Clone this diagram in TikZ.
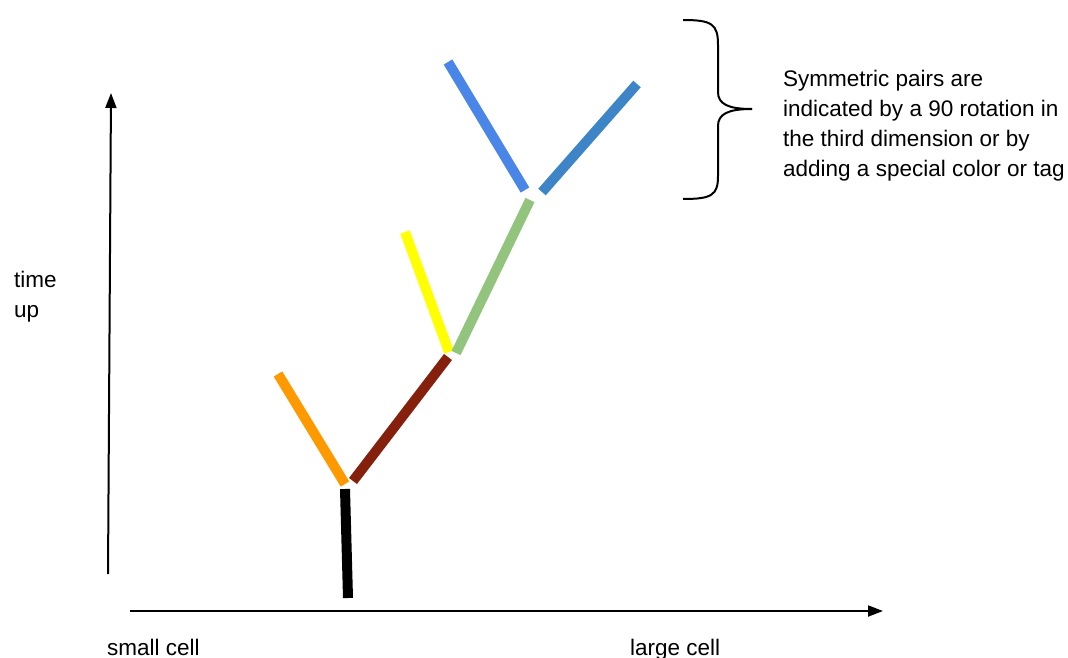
\documentclass[tikz,border=0pt]{standalone}
\usepackage{fontspec}
\setmainfont{Liberation Sans}
\usetikzlibrary{arrows.meta}
\definecolor{cOrange}{HTML}{FF9900}
\definecolor{cBrown}{HTML}{85200C}
\definecolor{cYellow}{HTML}{FFFF00}
\definecolor{cGreen}{HTML}{93C47D}
\definecolor{cBlueA}{HTML}{4A86E8}
\definecolor{cBlueB}{HTML}{3D85C6}
\begin{document}
\begin{tikzpicture}[x=1pt,y=-1pt,
  seg/.style={line width=10pt},
  axis/.style={line width=2pt,-{Triangle[length=15pt,width=11pt]}},
  brace/.style={line width=2pt},
  lbl/.style={font=\fontsize{22.5}{30}\selectfont, inner sep=0pt, align=left}]
\useasboundingbox (0,0) rectangle (1068,658);
% axes
\coordinate (yb) at (108,574);
\coordinate (yt) at (111,93);
\coordinate (xb) at (130,611);
\coordinate (xt) at (883,611);
\draw[axis] (yb) -- (yt);
\draw[axis] (xb) -- (xt);
% tree segments
\coordinate (k1) at (345,489);
\coordinate (k2) at (348,598);
\coordinate (o1) at (278,374);
\coordinate (o2) at (345,484);
\coordinate (b1) at (353,481);
\coordinate (b2) at (448,357);
\coordinate (y1) at (405,232);
\coordinate (y2) at (449,352);
\coordinate (g1) at (456,353);
\coordinate (g2) at (530,200);
\coordinate (l1) at (448,62);
\coordinate (l2) at (525,190);
\coordinate (r1) at (542,192);
\coordinate (r2) at (637,84);
\draw[seg,black] (k1) -- (k2);
\draw[seg,cOrange] (o1) -- (o2);
\draw[seg,cBrown] (b1) -- (b2);
\draw[seg,cYellow] (y1) -- (y2);
\draw[seg,cGreen] (g1) -- (g2);
\draw[seg,cBlueA] (l1) -- (l2);
\draw[seg,cBlueB] (r1) -- (r2);
% brace
\coordinate (bt) at (683,20);
\coordinate (bm) at (752,109);
\coordinate (bb) at (683,199);
\draw[brace] (bt) .. controls (712,20) and (718,24) .. (718,45) -- (718,92)
  .. controls (718,104) and (728,109) .. (bm);
\draw[brace] (bm) .. controls (728,109) and (718,114) .. (718,126) -- (718,176)
  .. controls (718,195) and (712,199) .. (bb);
% labels
\node[lbl,anchor=base west] (note) at (783,176) {Symmetric pairs are\\indicated by a 90 rotation in\\the third dimension or by\\adding a special color or tag};
\node[lbl,anchor=base west] (time) at (14,317) {time\\up};
\node[lbl,anchor=base west] (small) at (107,655) {small cell};
\node[lbl,anchor=base west] (large) at (630,655) {large cell};
\end{tikzpicture}
\end{document}
